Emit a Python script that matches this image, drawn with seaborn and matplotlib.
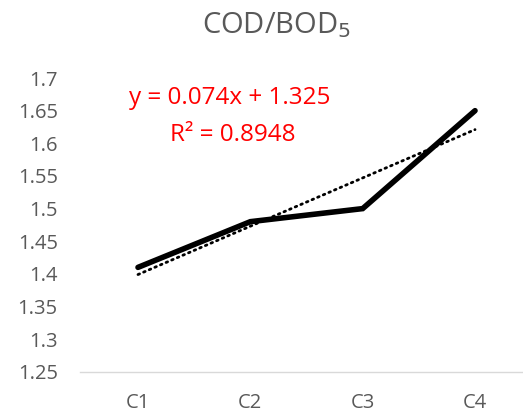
import numpy as np
import pandas as pd
import matplotlib
matplotlib.use("Agg")
import matplotlib.pyplot as plt
import seaborn as sns

categories = ["C1", "C2", "C3", "C4"]
values = [1.41, 1.48, 1.50, 1.65]
slope = 0.074
intercept = 1.325
r2_text = "R² = 0.8948"
eq_text = "y = 0.074x + 1.325"
yticks = [1.25, 1.3, 1.35, 1.4, 1.45, 1.5, 1.55, 1.6, 1.65, 1.7]

sns.set_theme(style="white")
plt.rcParams['font.family'] = ['Open Sans', 'DejaVu Sans']

df = pd.DataFrame({"cat": categories, "val": values, "pos": np.arange(len(categories))})
df["trend"] = slope * (df["pos"] + 1) + intercept

fig = plt.figure(figsize=(5.23, 4.15), dpi=100)
ax = fig.add_axes([0.153, 0.104, 0.847, 0.708])

sns.lineplot(data=df, x="pos", y="trend", ax=ax, color="black", linewidth=2.0,
             linestyle=(0, (0.6, 1.6)), dash_capstyle="round")
sns.lineplot(data=df, x="pos", y="val", ax=ax, color="black", linewidth=4.0,
             solid_capstyle="round", solid_joinstyle="miter")

ax.set_xlim(-0.516, 3.427)
ax.set_ylim(1.25, 1.7)
ax.set_xticks(df["pos"])
ax.set_xticklabels(categories)
ax.set_yticks(yticks)
ax.set_yticklabels([f"{t:g}" for t in yticks])
ax.set_xlabel("")
ax.set_ylabel("")
for s in ["top", "right", "left"]:
    ax.spines[s].set_visible(False)
ax.spines["bottom"].set_color("#d9d9d9")
ax.spines["bottom"].set_linewidth(1.0)
ax.tick_params(axis="both", length=0, colors="#595959", labelsize=14.5)
ax.tick_params(axis="x", pad=15)
ax.tick_params(axis="y", pad=16)

fig.text(0.528, 0.94, "COD/BOD$_5$", ha="center", va="center", fontsize=21, color="#595959")
ax.text(0.82, 1.669, eq_text, color="red", fontsize=17.5, ha="center", va="center")
ax.text(0.84, 1.612, r2_text, color="red", fontsize=17.5, ha="center", va="center")

fig.savefig("out.png", dpi=100)
